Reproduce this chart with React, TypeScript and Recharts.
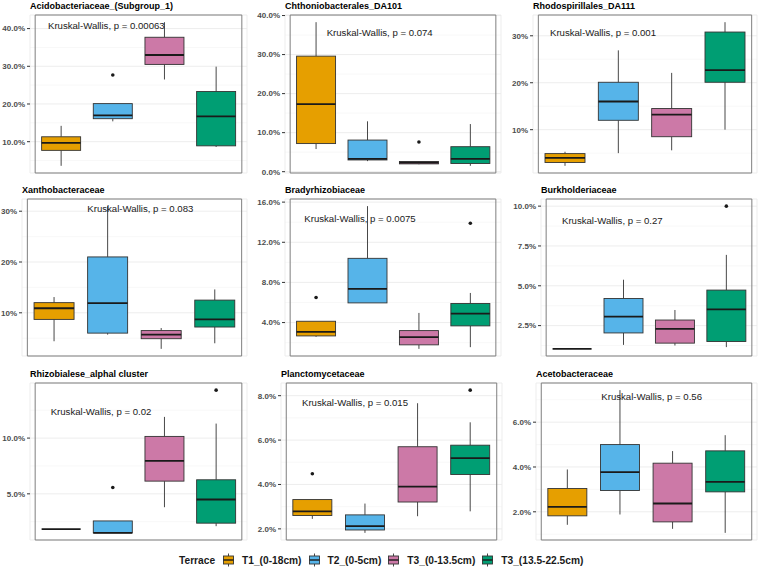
import React from 'react';
import { ComposedChart, Bar, XAxis, YAxis, CartesianGrid, ReferenceArea } from 'recharts';

const terraces = ['T1_(0-18cm)', 'T2_(0-5cm)', 'T3_(0-13.5cm)', 'T3_(13.5-22.5cm)'];

const taxa = [
  'Acidobacteriaceae_(Subgroup_1)',
  'Chthoniobacterales_DA101',
  'Rhodospirillales_DA111',
  'Xanthobacteraceae',
  'Bradyrhizobiaceae',
  'Burkholderiaceae',
  'Rhizobialese_alphal cluster',
  'Planctomycetaceae',
  'Acetobacteraceae',
];

const pValues = ['0.00063', '0.074', '0.001', '0.083', '0.0075', '0.27', '0.02', '0.015', '0.56'];

// relative abundance (%), one row per taxon, one column per terrace
const whiskerLow = [
  [3.6, 15.4, 26.5, 8.6],
  [5.8, 2.7, 1.9, 1.5],
  [2.3, 5.0, 5.6, 10.0],
  [4.4, 5.7, 2.9, 4.0],
  [2.58, 5.96, 1.38, 1.55],
  [1.04, 1.29, 1.25, 1.15],
  [1.83, 1.5, 3.8, 2.1],
  [2.45, 1.82, 2.57, 2.79],
  [1.42, 1.88, 1.24, 1.06],
];
const lowerQuartile = [
  [7.7, 16.1, 30.5, 8.9],
  [7.2, 3.0, 2.0, 2.1],
  [3.0, 12.0, 8.5, 20.1],
  [8.7, 6.0, 4.9, 7.2],
  [2.67, 5.96, 1.78, 3.67],
  [1.04, 2.04, 1.4, 1.5],
  [1.83, 1.5, 6.14, 2.37],
  [2.6, 1.95, 3.21, 4.45],
  [1.82, 2.95, 1.55, 2.89],
];
const medians = [
  [9.7, 17.0, 33.0, 16.7],
  [17.3, 3.3, 2.3, 3.3],
  [4.0, 16.0, 13.2, 22.7],
  [10.9, 11.9, 5.7, 8.7],
  [3.07, 7.35, 2.54, 4.9],
  [1.04, 3.06, 2.29, 3.52],
  [1.83, 1.5, 7.96, 4.49],
  [2.79, 2.12, 3.9, 5.19],
  [2.22, 3.77, 2.37, 3.34],
];
const upperQuartile = [
  [11.3, 20.1, 37.7, 23.3],
  [29.6, 8.1, 2.6, 6.4],
  [4.9, 20.1, 14.5, 30.8],
  [12.0, 21.0, 6.5, 12.5],
  [4.13, 10.4, 3.2, 5.9],
  [1.04, 4.2, 2.85, 4.73],
  [1.83, 2.57, 10.15, 6.26],
  [3.32, 2.63, 5.7, 5.77],
  [3.04, 5.0, 4.17, 4.72],
];
const whiskerHigh = [
  [14.2, 20.1, 41.7, 29.9],
  [38.3, 12.9, 2.7, 12.2],
  [5.3, 26.9, 22.1, 32.9],
  [13.1, 31.0, 7.0, 14.6],
  [4.13, 15.6, 4.96, 6.95],
  [1.04, 5.38, 3.48, 6.94],
  [1.83, 2.57, 11.9, 11.3],
  [3.32, 3.14, 7.66, 6.8],
  [3.89, 7.43, 4.71, 5.42],
];
const outliers: (number | null)[][] = [
  [null, 27.7, null, null],
  [null, null, 7.6, null],
  [null, null, null, null],
  [null, null, null, null],
  [6.5, null, null, 13.9],
  [null, null, null, 10.0],
  [null, 5.57, null, 14.3],
  [4.48, null, null, 8.25],
  [null, null, null, null],
];

const yTicks = [
  [10, 20, 30, 40],
  [0, 10, 20, 30, 40],
  [10, 20, 30],
  [10, 20, 30],
  [4, 8, 12, 16],
  [2.5, 5, 7.5, 10],
  [5, 10],
  [2, 4, 6, 8],
  [2, 4, 6],
];
const tickDecimals = [1, 1, 0, 0, 1, 1, 1, 1, 1];

const COLORS = ['#E69F00', '#56B4E9', '#CC79A7', '#009E73'];
const FONT = '"Liberation Sans", Arial, Helvetica, sans-serif';

// panel geometry in page pixels
const COL_START = [0, 253, 506];
const PLOT_X = [
  [30, 247], [285, 501], [533, 757],
  [22, 247], [285, 501], [541, 757],
  [30, 247], [281, 502], [536, 757],
];
const ROW_Y = [[15, 173], [199, 356], [383, 540]];
const LABEL_OFFSET = [
  [18, 10.7], [41.7, 17.7], [17, 17.7],
  [65.3, 10], [19.3, 20], [21, 22],
  [20.7, 29.4], [21, 20.4], [65.3, 14],
];
const MT = 8;
const MR = 2;

const BoxShape = (props: any) => {
  const { x, y, width, height, payload, index } = props;
  const d = payload;
  const top = height >= 0 ? y : y + height;
  const h = Math.abs(height);
  const toY = (v: number) => (d.hi === d.lo ? top : top + (h * (d.hi - v)) / (d.hi - d.lo));
  const cx = x + width / 2;
  const yq3 = toY(d.q3);
  const yq1 = toY(d.q1);
  return (
    <g>
      <line x1={cx} x2={cx} y1={toY(d.wh)} y2={yq3} stroke="#333" strokeWidth={0.9} />
      <line x1={cx} x2={cx} y1={yq1} y2={toY(d.wl)} stroke="#333" strokeWidth={0.9} />
      <rect x={x} y={yq3} width={width} height={Math.max(yq1 - yq3, 0)} fill={COLORS[index]} stroke="#333" strokeWidth={0.9} />
      <line x1={x} x2={x + width} y1={toY(d.med)} y2={toY(d.med)} stroke="#1a1a1a" strokeWidth={1.8} />
      {d.out != null && <circle cx={cx} cy={toY(d.out)} r={1.8} fill="#1a1a1a" />}
    </g>
  );
};

function Panel({ k }: { k: number }) {
  const col = k % 3;
  const row = Math.floor(k / 3);
  const [pl, pr] = PLOT_X[k];
  const [pt, pb] = ROW_Y[row];
  const left = COL_START[col];
  const rows = terraces.map((name, i) => {
    const out = outliers[k][i];
    const lo = out == null ? whiskerLow[k][i] : Math.min(whiskerLow[k][i], out);
    const hi = out == null ? whiskerHigh[k][i] : Math.max(whiskerHigh[k][i], out);
    return {
      name,
      wl: whiskerLow[k][i],
      q1: lowerQuartile[k][i],
      med: medians[k][i],
      q3: upperQuartile[k][i],
      wh: whiskerHigh[k][i],
      out,
      lo,
      hi,
    };
  });
  const mn = Math.min(...rows.map((r) => r.lo));
  const mx = Math.max(...rows.map((r) => r.hi));
  const span = mx - mn;
  const domain: [number, number] = [mn - 0.05 * span, mx + 0.05 * span];
  const ticks = yTicks[k];
  const step = ticks[1] - ticks[0];
  const minor: number[] = [];
  for (let v = ticks[0] - step / 2; v <= domain[1]; v += step) {
    if (v >= domain[0]) minor.push(v);
  }
  const plotW = pr - pl;
  const plotH = pb - pt;
  const pad = (plotW * (0.6 / 4.2 - 0.125)) / 0.75;
  const [dx, dy] = LABEL_OFFSET[k];

  return (
    <>
      <div
        style={{
          position: 'absolute', left: pl, top: pt - 15.5, lineHeight: '12px',
          fontSize: 9, fontWeight: 'bold', color: '#000', whiteSpace: 'nowrap',
        }}
      >
        {taxa[k]}
      </div>
      <div style={{ position: 'absolute', left, top: pt - MT }}>
        <ComposedChart
          width={pr - left + MR}
          height={plotH + MT + 6}
          data={rows}
          margin={{ top: MT, right: MR, bottom: 0, left: 0 }}
          barCategoryGap="12.5%"
        >
          <CartesianGrid vertical={false} horizontalValues={minor} stroke="#f3f3f3" strokeWidth={0.6} />
          <CartesianGrid stroke="#ebebeb" strokeWidth={0.9} />
          <XAxis
            dataKey="name"
            type="category"
            tick={false}
            tickSize={3}
            tickLine={{ stroke: '#333' }}
            axisLine={false}
            height={6}
            padding={{ left: pad, right: pad }}
          />
          <YAxis
            type="number"
            domain={domain}
            ticks={ticks}
            interval={0}
            allowDataOverflow
            width={pl - left}
            tickSize={3}
            tickMargin={2}
            axisLine={false}
            tickLine={{ stroke: '#333' }}
            tick={{ fontSize: 8, fontWeight: 'bold', fill: '#4d4d4d', fontFamily: FONT }}
            tickFormatter={(v: number) => `${v.toFixed(tickDecimals[k])}%`}
          />
          <Bar dataKey={(d: any) => [d.lo, d.hi]} shape={BoxShape} isAnimationActive={false} />
          <ReferenceArea y1={domain[0]} y2={domain[1]} fill="none" stroke="#7f7f7f" strokeWidth={1} ifOverflow="visible" />
        </ComposedChart>
      </div>
      <div
        style={{
          position: 'absolute', left: pl + dx, top: pt + dy - 6, lineHeight: '12px',
          fontSize: 9.6, color: '#1a1a1a', whiteSpace: 'nowrap',
        }}
      >
        {`Kruskal-Wallis, p = ${pValues[k]}`}
      </div>
    </>
  );
}

const LegendGlyph = ({ color }: { color: string }) => (
  <svg width={11} height={14} style={{ display: 'block' }}>
    <line x1={5.5} x2={5.5} y1={0.5} y2={13.5} stroke="#333" strokeWidth={0.9} />
    <rect x={0.5} y={3} width={10} height={8} fill={color} stroke="#333" strokeWidth={0.9} />
    <line x1={0.5} x2={10.5} y1={7} y2={7} stroke="#1a1a1a" strokeWidth={1.4} />
  </svg>
);

export default function App() {
  return (
    <div
      style={{
        position: 'absolute', left: 0, top: 0, width: 760, height: 568,
        background: '#fff', overflow: 'hidden', fontFamily: FONT,
      }}
    >
      {taxa.map((_, k) => (
        <Panel key={k} k={k} />
      ))}
      <div
        style={{
          position: 'absolute', left: 179, top: 553, height: 14, display: 'flex',
          alignItems: 'center', fontSize: 10.2, fontWeight: 'bold', color: '#1a1a1a',
        }}
      >
        <span style={{ marginRight: 8 }}>Terrace</span>
        {terraces.map((t, i) => (
          <React.Fragment key={t}>
            <span style={{ marginRight: 8 }}>
              <LegendGlyph color={COLORS[i]} />
            </span>
            <span style={{ marginRight: 7 }}>{t}</span>
          </React.Fragment>
        ))}
      </div>
    </div>
  );
}
